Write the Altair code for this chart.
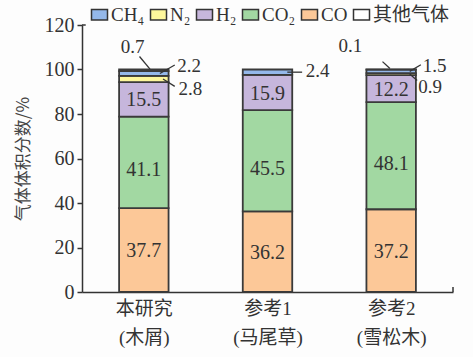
import json
import altair as alt
import pandas as pd

# ---- data ----
cat_top = ["本研究", "参考1", "参考2"]
cat_bottom = ["(木屑)", "(马尾草)", "(雪松木)"]

gases_stack = ["CO", "CO₂", "H₂", "N₂", "CH₄", "其他气体"]   # bottom -> top
legend_order = ["CH₄", "N₂", "H₂", "CO₂", "CO", "其他气体"]
colors = ["#94b8ea", "#fdf79c", "#c6b6dc", "#a2d8a2", "#fcc898", "#ffffff"]

CO = [37.7, 36.2, 37.2]
CO2 = [41.1, 45.5, 48.1]
H2 = [15.5, 15.9, 12.2]
N2 = [2.8, 0.0, 0.9]
CH4 = [2.2, 2.4, 1.5]
OTHER = [0.7, 0.0, 0.1]
series = [CO, CO2, H2, N2, CH4, OTHER]

HALF = 0.2  # half bar width in category units

rows = []
for i in range(len(cat_top)):
    base = 0.0
    for gas, vals in zip(gases_stack, series):
        v = vals[i]
        if v > 0:
            rows.append(dict(pos=i, gas=gas, value=v, y0=base, y1=base + v,
                             mid=base + v / 2, left=i - HALF, right=i + HALF,
                             label=f"{v:.1f}"))
        base += v
df = pd.DataFrame(rows)

# annotation layout for small segments: (pos, gas) -> text offset, leader ends
# (text_dx, text_dy, bar_dx, bar_dy, end_dx, end_dy, align)
layout = {
    (0, "其他气体"): (-0.09, 10.6, 0.05, 0.5, -0.035, 6.2, "center"),
    (0, "CH₄"): (0.27, 3.3, 0.13, 0.0, 0.25, 3.8, "left"),
    (0, "N₂"): (0.28, -4.4, 0.155, 0.0, 0.25, -3.3, "left"),
    (1, "CH₄"): (0.31, 0.6, 0.16, 0.0, 0.28, 0.0, "left"),
    (2, "其他气体"): (-0.33, 10.4, -0.01, 0.5, -0.07, 3.6, "center"),
    (2, "CH₄"): (0.255, 2.6, 0.15, 0.0, 0.24, 3.0, "left"),
    (2, "N₂"): (0.22, -5.6, 0.15, 0.0, 0.21, -2.9, "left"),
}
ann = []
for _, r in df.iterrows():
    key = (r["pos"], r["gas"])
    if key in layout:
        tdx, tdy, bdx, bdy, edx, edy, al = layout[key]
        ann.append(dict(tx=r["pos"] + tdx, ty=r["mid"] + tdy,
                        bx=r["pos"] + bdx, by=r["mid"] + bdy,
                        ex=r["pos"] + edx, ey=r["mid"] + edy,
                        align=al, label=r["label"]))
adf = pd.DataFrame(ann)

SERIF = "Liberation Serif, Noto Sans CJK SC"
CJK = "Noto Sans CJK SC"
INK = "#333333"

xscale = alt.Scale(domain=[-0.5, 2.5], nice=False, zero=False)
yscale = alt.Scale(domain=[0, 120], nice=False)

label_expr = f"[{json.dumps(cat_top, ensure_ascii=False)}[datum.value], {json.dumps(cat_bottom, ensure_ascii=False)}[datum.value]]"

bars = alt.Chart(df).mark_bar(stroke="#3a3a3a", strokeWidth=1.8).encode(
    x=alt.X("left:Q", scale=xscale, axis=alt.Axis(
        values=[0, 1, 2], labelExpr=label_expr, ticks=False, grid=False, title=None,
        domainColor=INK, domainWidth=1.5, labelFont=SERIF, labelFontSize=19,
        labelColor=INK, labelPadding=7, labelLineHeight=29, labelFlush=False)),
    x2="right:Q",
    y=alt.Y("y0:Q", scale=yscale, axis=alt.Axis(
        values=list(range(0, 121, 20)), grid=False, tickSize=5, tickColor=INK,
        tickWidth=1.5, domainColor=INK, domainWidth=1.5, labelFont=SERIF,
        labelFontSize=20, labelColor=INK, labelPadding=3, labelFlush=False,
        title="气体体积分数/%", titleFont=CJK, titleFontSize=17,
        titleFontWeight="normal", titleColor="#444444", titlePadding=12)),
    y2="y1:Q",
    color=alt.Color("gas:N", scale=alt.Scale(domain=legend_order, range=colors),
                    legend=alt.Legend(
                        title=None, orient="none", legendX=8, legendY=-20,
                        direction="horizontal", symbolType="M-1,-0.65H1V0.65H-1Z",
                        symbolSize=256, symbolStrokeColor=INK, symbolStrokeWidth=1.5,
                        symbolOpacity=1, labelFont=SERIF, labelFontSize=19,
                        labelColor=INK, columnPadding=2, labelOffset=2,
                        padding=0, labelLimit=200)),
)

inside = df[df["gas"].isin(["CO", "H₂"])]
co2 = df[df["gas"] == "CO₂"]
txt_in = alt.Chart(inside).mark_text(font=SERIF, fontSize=20, color=INK, dy=1).encode(
    x="pos:Q", y="mid:Q", text="label:N")
txt_co2 = alt.Chart(co2).mark_text(font=SERIF, fontSize=20, color=INK, dy=8).encode(
    x="pos:Q", y="mid:Q", text="label:N")

leaders = alt.Chart(adf).mark_rule(color=INK, strokeWidth=1.3).encode(
    x="bx:Q", x2="ex:Q", y="by:Q", y2="ey:Q")
ann_left = alt.Chart(adf[adf["align"] == "left"]).mark_text(
    font=SERIF, fontSize=19, color=INK, align="left", baseline="middle").encode(
    x="tx:Q", y="ty:Q", text="label:N")
ann_center = alt.Chart(adf[adf["align"] == "center"]).mark_text(
    font=SERIF, fontSize=19, color=INK, align="center", baseline="middle").encode(
    x="tx:Q", y="ty:Q", text="label:N")

# small frame corner marks at axis ends
corner_h = alt.Chart(pd.DataFrame({"a": [-0.5], "b": [-0.47], "y": [120]})).mark_rule(
    color=INK, strokeWidth=1.5).encode(x="a:Q", x2="b:Q", y="y:Q")
corner_v = alt.Chart(pd.DataFrame({"x": [2.5], "a": [0], "b": [2.3]})).mark_rule(
    color=INK, strokeWidth=1.5).encode(x="x:Q", y="a:Q", y2="b:Q")

chart = alt.layer(bars, txt_in, txt_co2, leaders, ann_left, ann_center,
                  corner_h, corner_v).properties(
    width=371, height=267,
    autosize=alt.AutoSizeParams(type="none"),
    padding={"left": 82, "top": 25, "right": 20, "bottom": 65},
    background="#fdfdfd",
).configure_view(strokeWidth=0)

chart.save("out.html", embed_options={"renderer": "svg", "actions": False})
